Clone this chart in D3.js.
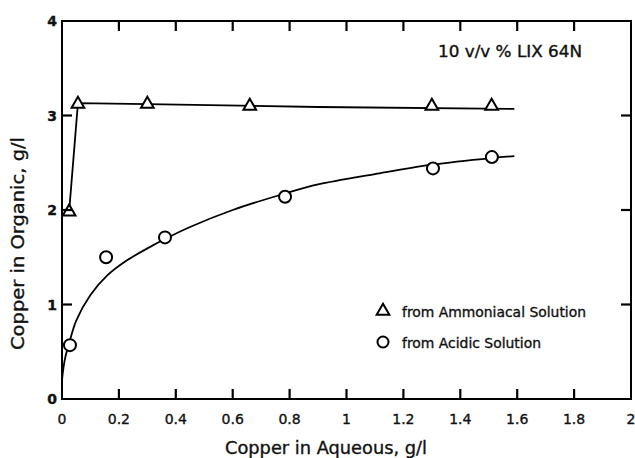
<!DOCTYPE html>
<html>
<head>
<meta charset="utf-8">
<script src="https://cdn.jsdelivr.net/npm/d3@7"></script>
<style>
  html, body { margin: 0; padding: 0; background: #fff; }
  svg { display: block; }
  text { font-family: "DejaVu Sans", sans-serif; fill: #111; stroke: #111; stroke-width: 0.35; }
</style>
</head>
<body>
<svg id="chart" width="635" height="458"></svg>
<script>
// Copper loading isotherms, 10 v/v % LIX 64N
const xTicks = [0, 0.2, 0.4, 0.6, 0.8, 1, 1.2, 1.4, 1.6, 1.8, 2];
const xTickLabels = ["0", "0.2", "0.4", "0.6", "0.8", "1", "1.2", "1.4", "1.6", "1.8", "2"];
const yTicks = [0, 1, 2, 3, 4];
const yTickLabels = ["0", "1", "2", "3", "4"];

// measured points: [aqueous Cu g/l, organic Cu g/l]
const ammoniacalPoints = [[0.025, 1.98], [0.056, 3.12], [0.30, 3.12], [0.66, 3.10], [1.30, 3.10], [1.51, 3.10]];
const acidicPoints = [[0.028, 0.57], [0.155, 1.50], [0.362, 1.71], [0.784, 2.14], [1.304, 2.44], [1.511, 2.56]];

// hand-drawn trend lines
const ammoniacalLine = [[0.025, 1.98], [0.056, 3.13], [0.30, 3.12], [0.90, 3.09], [1.59, 3.07]];
const acidicCurve = [[0.0, 0.2], [0.01, 0.42], [0.028, 0.62], [0.05, 0.83], [0.1, 1.1], [0.16, 1.31],
                     [0.23, 1.47], [0.31, 1.61], [0.36, 1.69], [0.45, 1.82], [0.6, 2.0], [0.79, 2.18],
                     [0.9, 2.27], [1.1, 2.38], [1.3, 2.48], [1.51, 2.55], [1.59, 2.57]];

const legendItems = ["from Ammoniacal Solution", "from Acidic Solution"];
const noteText = "10 v/v % LIX 64N";
const xTitle = "Copper in Aqueous, g/l";
const yTitle = "Copper in Organic, g/l";

const svg = d3.select("#chart");
const plotL = 62, plotR = 631, plotT = 21, plotB = 399;

const x = d3.scaleLinear().domain([0, 2]).range([plotL, plotR]);
const y = d3.scaleLinear().domain([0, 4]).range([plotB, plotT]);

const ink = "#000";

// frame
svg.append("rect")
  .attr("x", plotL).attr("y", plotT)
  .attr("width", plotR - plotL).attr("height", plotB - plotT)
  .style("fill", "none").attr("stroke", ink).attr("stroke-width", 2);

// tick labels
svg.append("g").selectAll("text").data(xTicks).join("text")
  .attr("x", d => x(d)).attr("y", plotB + 25)
  .attr("text-anchor", "middle").attr("font-size", 14)
  .text((d, i) => xTickLabels[i]);

svg.append("g").selectAll("text").data(yTicks).join("text")
  .attr("x", plotL - 5).attr("y", d => y(d) + 5)
  .attr("text-anchor", "end").attr("font-size", 14).attr("font-weight", "bold")
  .text((d, i) => yTickLabels[i]);

// axis titles
svg.append("text")
  .attr("x", 225).attr("y", 454)
  .attr("font-size", 17.5).attr("textLength", 202).attr("lengthAdjust", "spacingAndGlyphs")
  .text(xTitle);

svg.append("text")
  .attr("transform", `translate(24,350) rotate(-90)`)
  .attr("font-size", 17.5).attr("textLength", 213).attr("lengthAdjust", "spacingAndGlyphs")
  .text(yTitle);

// note
svg.append("text")
  .attr("x", 438).attr("y", 57).attr("font-size", 15.5)
  .attr("textLength", 144).attr("lengthAdjust", "spacingAndGlyphs")
  .text(noteText);

// trend lines
const line = d3.line().x(d => x(d[0])).y(d => y(d[1]));
svg.append("path").datum(ammoniacalLine)
  .attr("d", line).style("fill", "none").attr("stroke", ink).attr("stroke-width", 1.8);
svg.append("path").datum(acidicCurve)
  .attr("d", line.curve(d3.curveCatmullRom.alpha(0.5))).style("fill", "none")
  .attr("stroke", ink).attr("stroke-width", 1.8);

// markers
const tri = d3.symbol().type(d3.symbolTriangle).size(70);
svg.append("g").selectAll("path").data(ammoniacalPoints).join("path")
  .attr("transform", d => `translate(${x(d[0])},${y(d[1])})`)
  .attr("d", tri).attr("fill", "#fff").attr("stroke", ink).attr("stroke-width", 2);

svg.append("g").selectAll("circle").data(acidicPoints).join("circle")
  .attr("cx", d => x(d[0])).attr("cy", d => y(d[1])).attr("r", 6)
  .attr("fill", "#fff").attr("stroke", ink).attr("stroke-width", 2);

// legend
const lg = svg.append("g");
lg.append("path").attr("transform", "translate(383,311)").attr("d", tri)
  .attr("fill", "#fff").attr("stroke", ink).attr("stroke-width", 2);
lg.append("circle").attr("cx", 383).attr("cy", 342).attr("r", 5.5)
  .attr("fill", "#fff").attr("stroke", ink).attr("stroke-width", 2);
lg.selectAll("text").data(legendItems).join("text")
  .attr("x", 402).attr("y", (d, i) => 317 + i * 31)
  .attr("font-size", 14)
  .attr("textLength", (d, i) => i === 0 ? 184 : 139).attr("lengthAdjust", "spacingAndGlyphs")
  .text(d => d);

// inward tick marks on all four sides, drawn last so nothing covers them
const innerX = xTicks.slice(1, -1);
const innerY = yTicks.slice(1, -1);
const tickLen = 10;
const tickSegs = [];
innerX.forEach(v => {
  tickSegs.push([[v, 0], "up"]);
  tickSegs.push([[v, 4], "down"]);
});
innerY.forEach(v => {
  tickSegs.push([[0, v], "right"]);
  tickSegs.push([[2, v], "left"]);
});
const dir = { up: [0, -1], down: [0, 1], right: [1, 0], left: [-1, 0] };
svg.append("g").attr("class", "frame-ticks").selectAll("path").data(tickSegs).join("path")
  .attr("d", d => {
    const px = x(d[0][0]), py = y(d[0][1]), v = dir[d[1]];
    return `M${px},${py}L${px + v[0] * tickLen},${py + v[1] * tickLen}`;
  })
  .style("fill", "none").style("stroke", "#000").style("stroke-width", "2.2px");
</script>
</body>
</html>
